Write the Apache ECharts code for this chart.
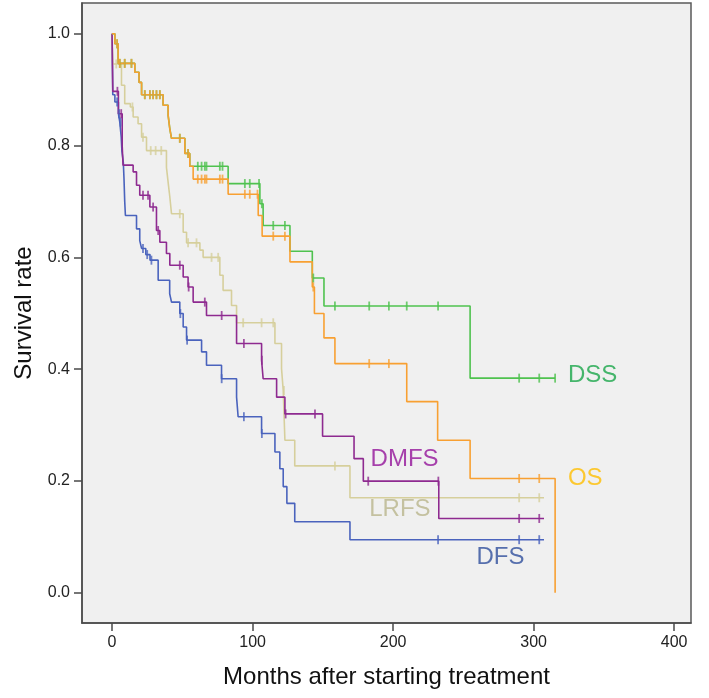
<!DOCTYPE html>
<html>
<head>
<meta charset="utf-8">
<script src="https://cdn.jsdelivr.net/npm/echarts@6/dist/echarts.min.js"></script>
<style>
html,body{margin:0;padding:0;background:#fff;}
#chart{width:709px;height:698px;}
</style>
</head>
<body>
<div id="chart"></div>
<script>
// ---- Data ----
var xTicks = [0, 100, 200, 300, 400];
var yTicks = [0, 0.2, 0.4, 0.6, 0.8, 1.0];

// DSS
var dssTimes = [0, 2, 4.3, 16.2, 19.2, 21, 36.3, 39.9, 41.1, 42.3, 51.8, 55.3, 82.6, 105.2, 107.5, 126.6, 142.5, 150.8, 254.8];
var dssSurv  = [1.0, 0.982, 0.947, 0.931, 0.913, 0.891, 0.872, 0.854, 0.830, 0.813, 0.786, 0.763, 0.732, 0.696, 0.657, 0.611, 0.563, 0.513, 0.384];
var dssCensor = [3.6, 5.5, 9, 13.8, 23.3, 26.9, 29.2, 31.6, 34, 48.2, 54.1, 61, 63.7, 66, 67.2, 76.7, 78.6, 94.5, 98, 104.6, 106.6, 114.7, 123, 143.2, 158.6, 183, 197, 209.7, 232, 289.7, 304, 315.3];
var dssEnd = 315.3;

// OS
var osTimes = [0, 2, 4.3, 16.2, 19.2, 21, 36.3, 39.9, 41.1, 42.3, 51.8, 55.3, 57.7, 82.6, 104, 106.8, 126.6, 142.5, 144, 150.8, 158.6, 209.7, 231.7, 254.8, 315.3];
var osSurv  = [1.0, 0.982, 0.947, 0.931, 0.913, 0.891, 0.872, 0.854, 0.830, 0.813, 0.786, 0.763, 0.740, 0.713, 0.675, 0.638, 0.592, 0.547, 0.4995, 0.456, 0.410, 0.342, 0.273, 0.2045, 0.0];
var osCensor = [3.6, 5.5, 9, 13.8, 23.3, 26.9, 29.2, 31.6, 34, 48.2, 54.1, 61, 63.7, 66, 67.2, 76.7, 78.6, 94.5, 98, 103.5, 114.7, 123, 143.2, 183, 197, 289.7, 304];
var osEnd = 315.3;

// DMFS
var dmfsTimes = [0, 0.5, 4.5, 7.2, 7.8, 15, 17.4, 19.7, 26.9, 31.6, 34, 38.7, 41.1, 50.6, 54.1, 57.7, 67.2, 88.6, 106.4, 107.5, 117.1, 123, 149.8, 172.2, 178.8, 232.5];
var dmfsSurv  = [1.0, 0.897, 0.857, 0.80, 0.765, 0.753, 0.729, 0.711, 0.690, 0.648, 0.627, 0.607, 0.586, 0.565, 0.547, 0.520, 0.496, 0.446, 0.416, 0.383, 0.350, 0.320, 0.280, 0.240, 0.1997, 0.133];
var dmfsCensor = [3.8, 6.5, 22, 25.6, 29.2, 32.8, 48.2, 54.5, 66, 78, 93.8, 106.6, 123.5, 144.4, 182.3, 232.2, 289.7, 304];
var dmfsEnd = 307.4;

// LRFS
var lrfsTimes = [0, 0.5, 6.7, 9, 13, 15, 18.5, 21, 24.5, 38.7, 40, 41.1, 42.3, 50.6, 53, 62.5, 64.8, 76.7, 79, 85, 88.6, 115.9, 120.6, 121.8, 123, 130, 169.3];
var lrfsSurv  = [1.0, 0.946, 0.908, 0.875, 0.869, 0.851, 0.839, 0.815, 0.791, 0.761, 0.732, 0.708, 0.678, 0.645, 0.626, 0.613, 0.600, 0.568, 0.541, 0.514, 0.483, 0.446, 0.401, 0.362, 0.273, 0.227, 0.170];
var lrfsCensor = [3, 14.5, 22, 27.5, 31, 35, 48.2, 54.1, 60.1, 70.8, 75.5, 93.3, 106.4, 114.7, 122.3, 158.6, 289.7, 304];
var lrfsEnd = 307.4;

// DFS
var dfsTimes = [0, 0.5, 2, 4.5, 5.5, 6.5, 7, 8, 8.5, 9, 9.5, 17.4, 19.7, 21, 24, 27, 32.8, 41, 42.3, 48.2, 50.6, 53, 63.7, 67.2, 77.9, 88.6, 89.7, 106.4, 115.9, 119.4, 121.8, 124.4, 130, 169.3];
var dfsSurv  = [1.0, 0.891, 0.878, 0.857, 0.842, 0.815, 0.79, 0.77, 0.74, 0.70, 0.675, 0.651, 0.63, 0.616, 0.605, 0.595, 0.559, 0.535, 0.520, 0.4995, 0.4755, 0.452, 0.431, 0.407, 0.383, 0.350, 0.315, 0.285, 0.252, 0.222, 0.19, 0.16, 0.127, 0.095];
var dfsCensor = [3.6, 5, 6, 22, 25, 28, 48.6, 53.4, 78, 93.8, 106.6, 232, 289.7, 304];
var dfsEnd = 307.4;

// Curve labels (data coordinates of the text's left-middle)
var labelNames = ['DSS', 'OS', 'DMFS', 'LRFS', 'DFS'];
var labelT = [324.4, 324.4, 184, 183, 259.3];
var labelS = [0.389, 0.2045, 0.238, 0.149, 0.063];

// ---- Build ----
var FONT = '"Liberation Sans", Arial, Helvetica, sans-serif';
function survAt(times, surv, t) {
  var v = surv[0];
  for (var i = 0; i < times.length; i++) { if (times[i] <= t) v = surv[i]; }
  return v;
}
function stepData(times, surv, end) {
  var d = [];
  for (var i = 0; i < times.length; i++) d.push([times[i], surv[i]]);
  if (times[times.length - 1] < end) d.push([end, surv[surv.length - 1]]);
  return d;
}
function censorData(times, surv, cens) {
  return cens.map(function (t) { return [t, survAt(times, surv, t)]; });
}

var curves = [
  {name: 'DFS', t: dfsTimes, s: dfsSurv, c: dfsCensor, e: dfsEnd, color: '#4a63bd', text: '#2f4f9c'},
  {name: 'LRFS', t: lrfsTimes, s: lrfsSurv, c: lrfsCensor, e: lrfsEnd, color: '#d6cf9c', text: '#b9b58c'},
  {name: 'DMFS', t: dmfsTimes, s: dmfsSurv, c: dmfsCensor, e: dmfsEnd, color: '#8e2a90', text: '#93149a'},
  {name: 'DSS', t: dssTimes, s: dssSurv, c: dssCensor, e: dssEnd, color: '#4fc24f', text: '#1aa64a'},
  {name: 'OS', t: osTimes, s: osSurv, c: osCensor, e: osEnd, color: '#f8a032', text: '#ffbe00'}
];

var series = [];
curves.forEach(function (cv) {
  series.push({
    name: cv.name, type: 'line', step: 'end', symbol: 'none',
    data: stepData(cv.t, cv.s, cv.e),
    lineStyle: {color: cv.color, width: 1.6},
    silent: true, z: 2
  });
  series.push({
    name: cv.name + ' censored', type: 'scatter',
    data: censorData(cv.t, cv.s, cv.c),
    symbol: 'rect', symbolSize: [1.8, 9],
    itemStyle: {color: cv.color},
    silent: true, z: 3
  });
});

var textColors = {};
curves.forEach(function (cv) { textColors[cv.name] = cv.text; });
series.push({
  name: 'labels', type: 'scatter', symbolSize: 0, silent: true, z: 4,
  data: labelNames.map(function (n, i) {
    return {
      value: [labelT[i], labelS[i]],
      label: {show: true, position: 'right', distance: 0, formatter: n,
        color: textColors[n], fontSize: 24, fontFamily: FONT}
    };
  })
});

var chart = echarts.init(document.getElementById('chart'), null, {renderer: 'canvas'});
chart.setOption({
  animation: false,
  backgroundColor: '#ffffff',
  grid: {
    left: 82, right: 18, top: 3, bottom: 75,
    show: true, backgroundColor: '#f0f0f0', borderColor: '#5a5a5a', borderWidth: 1.5,
    outerBoundsMode: 'none'
  },
  xAxis: {
    type: 'value', min: -21.4, max: 412,
    axisLine: {show: true, onZero: false, lineStyle: {color: '#4a4a4a', width: 1.5}},
    axisTick: {show: true, inside: false, length: 8, customValues: xTicks, lineStyle: {color: '#4a4a4a', width: 1.5}},
    axisLabel: {customValues: xTicks, fontSize: 16, color: '#222', margin: 12, fontFamily: FONT},
    splitLine: {show: false},
    name: 'Months after starting treatment', nameLocation: 'middle', nameGap: 42,
    nameTextStyle: {fontSize: 24, color: '#111', fontFamily: FONT}
  },
  yAxis: {
    type: 'value', min: -0.054, max: 1.055,
    axisLine: {show: true, onZero: false, lineStyle: {color: '#4a4a4a', width: 1.5}},
    axisTick: {show: true, inside: false, length: 8, customValues: yTicks, lineStyle: {color: '#4a4a4a', width: 1.5}},
    axisLabel: {customValues: yTicks, fontSize: 16, color: '#222', margin: 12, fontFamily: FONT,
      formatter: function (v) { return v.toFixed(1); }},
    splitLine: {show: false},
    name: 'Survival rate', nameLocation: 'middle', nameGap: 46, nameRotate: 90,
    nameTextStyle: {fontSize: 24, color: '#111', fontFamily: FONT}
  },
  series: series
});
</script>
</body>
</html>
